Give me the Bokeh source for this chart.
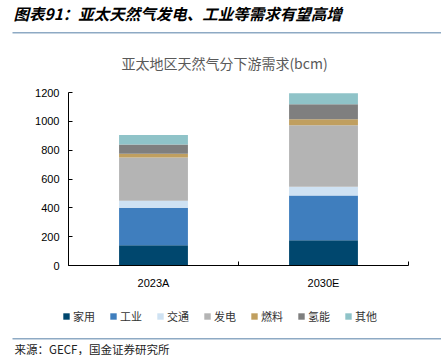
from bokeh.plotting import figure
from bokeh.layouts import column
from bokeh.models import (Label, Legend, LegendItem, BoxAnnotation, FixedTicker,
                          Range1d, ColumnDataSource)
from bokeh.embed import file_html
from bokeh.resources import INLINE

# ---- data ----
categories = ["2023A", "2030E"]
series = ["家用", "工业", "交通", "发电", "燃料", "氢能", "其他"]
household = [140, 175]
industry = [260, 310]
transport = [50, 62]
power = [300, 425]
fuel = [25, 42]
hydrogen = [65, 105]
other = [65, 75]
y_ticks = [0, 200, 400, 600, 800, 1000, 1200]

colors = ["#00476E", "#3F7EBE", "#CFE2F3", "#B4B4B4", "#C09F5F", "#7F7F7F", "#8FC3C8"]

cjk = "Noto Sans CJK SC"
W = 441

xpos = [i + 0.5 for i in range(len(categories))]
src = ColumnDataSource(dict(x=xpos, 家用=household, 工业=industry, 交通=transport,
                            发电=power, 燃料=fuel, 氢能=hydrogen, 其他=other))

def blank_fig(h):
    f = figure(width=W, height=h, output_backend="svg", toolbar_location=None,
               x_axis_type=None, y_axis_type=None,
               x_range=Range1d(0, W), y_range=Range1d(0, h),
               min_border=0, min_border_left=0, min_border_right=0,
               min_border_top=0, min_border_bottom=0, frame_align=False)
    f.outline_line_color = None
    f.grid.visible = False
    f.background_fill_color = "white"
    f.border_fill_color = "white"
    return f

def hline(f, h, y0, y1, x0=12, x1=441, color="#8EAAC4"):
    f.add_layout(BoxAnnotation(left=x0, right=x1, top=h - y0, bottom=h - y1,
                               left_units="screen", right_units="screen",
                               top_units="screen", bottom_units="screen",
                               fill_color=color, fill_alpha=1, line_color=None))

# ---------- header ----------
HT = 84
top = blank_fig(HT)
top.add_layout(Label(x=13, y=HT - 12.5, x_units="screen", y_units="screen",
                     text="图表91：亚太天然气发电、工业等需求有望高增",
                     text_font=cjk, text_font_size="15.5px", text_font_style="bold italic",
                     text_color="#000000", text_baseline="middle", text_align="left"))
hline(top, HT, 31.5, 33)
top.add_layout(Label(x=224, y=HT - 62, x_units="screen", y_units="screen",
                     text="亚太地区天然气分下游需求(bcm)",
                     text_font=cjk, text_font_size="14px", text_color="#595959",
                     text_baseline="middle", text_align="center"))

# ---------- main chart ----------
L, R, T, B = 68, 33, 8, 35
FH = 173
p = figure(width=W, height=T + FH + B, output_backend="svg", toolbar_location=None,
           x_range=Range1d(0, len(categories)), y_range=Range1d(0, 1200),
           min_border_left=L, min_border_right=R, min_border_top=T, min_border_bottom=B,
           frame_align=False)
p.outline_line_color = None
p.grid.visible = False
p.background_fill_color = "white"
p.border_fill_color = "white"

rs = p.vbar_stack(series, x="x", width=0.405, source=src, color=colors, line_color=None)

ya = p.yaxis[0]
ya.ticker = FixedTicker(ticks=y_ticks)
ya.major_tick_in = 4
ya.major_tick_out = 0
ya.minor_tick_line_color = None
ya.axis_line_color = "black"
ya.major_tick_line_color = "black"
ya.major_label_text_font = "Liberation Sans"
ya.major_label_text_font_size = "11px"
ya.major_label_text_color = "#000000"
ya.major_label_standoff = 9

xa = p.xaxis[0]
xa.ticker = FixedTicker(ticks=xpos, minor_ticks=[0, 1, 2])
xa.major_label_overrides = {xpos[i]: categories[i] for i in range(len(categories))}
xa.major_tick_line_color = None
xa.minor_tick_in = 4
xa.minor_tick_out = 0
xa.minor_tick_line_color = "black"
xa.axis_line_color = "black"
xa.major_label_text_font = "Liberation Sans"
xa.major_label_text_font_size = "11px"
xa.major_label_text_color = "#000000"
xa.major_label_standoff = 5

# ---------- footer with legend ----------
y0b = HT + T + FH + B  # page y of footer top
HB = 355 - y0b
bot = blank_fig(HB)
leg_rs = bot.vbar_stack(series, x="x", width=0.405, source=src, color=colors,
                        line_color=None)
for r in leg_rs:
    r.visible = False
items = [LegendItem(label=series[i], renderers=[leg_rs[i]]) for i in range(len(series))]
legend = Legend(items=items, orientation="horizontal", location=(62, HB - (324 - y0b)),
                glyph_width=8, glyph_height=8, label_height=12, label_standoff=3,
                spacing=14, padding=0, margin=0, border_line_color=None,
                background_fill_alpha=0, inactive_fill_alpha=0,
                label_text_font=cjk,
                label_text_font_size="11px", label_text_color="#333333")
bot.add_layout(legend, "center")
hline(bot, HB, 337.5 - y0b, 339 - y0b)
bot.add_layout(Label(x=14, y=HB - (348 - y0b), x_units="screen", y_units="screen",
                     text="来源：GECF，国金证券研究所",
                     text_font=cjk, text_font_size="11.5px", text_color="#222222",
                     text_baseline="middle", text_align="left"))

layout = column(top, p, bot, spacing=0)
open("out.html", "w").write(file_html(layout, INLINE))
